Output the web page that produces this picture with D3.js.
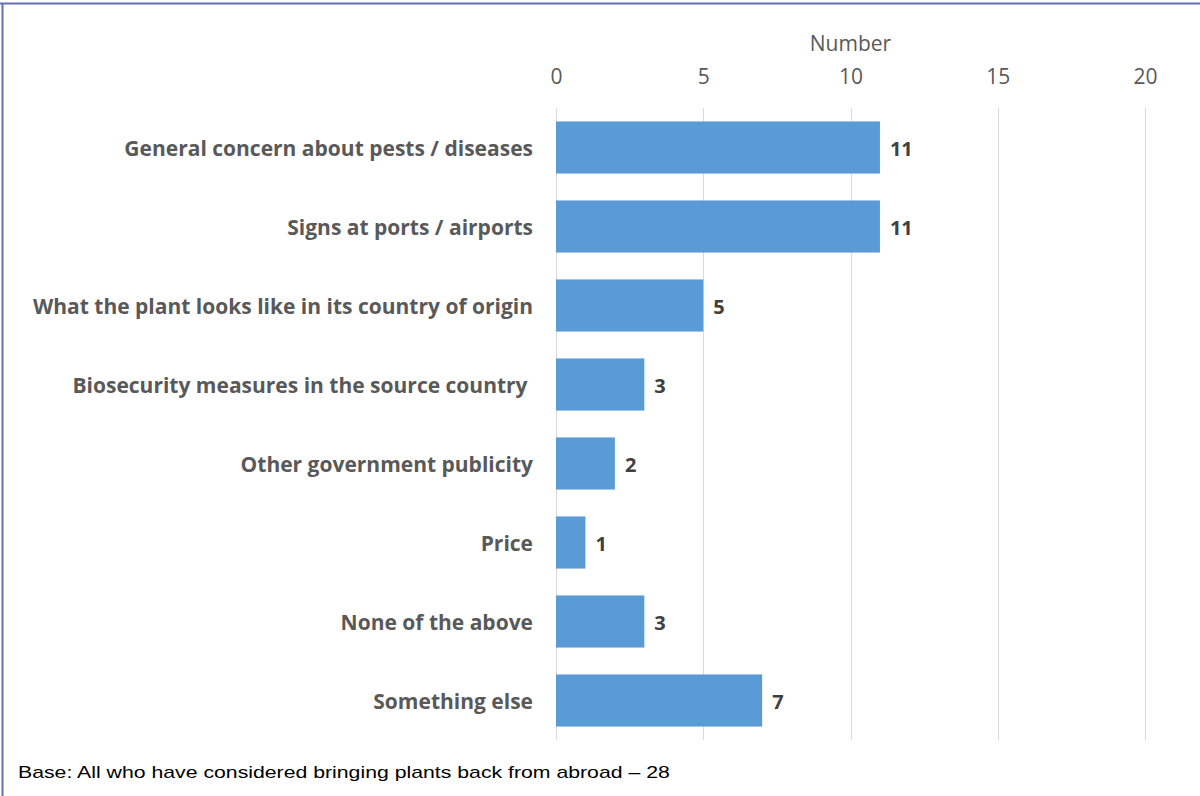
<!DOCTYPE html>
<html>
<head>
<meta charset="utf-8">
<script src="https://cdn.jsdelivr.net/npm/d3@7"></script>
<style>
  html, body { margin: 0; padding: 0; background: #fff; }
  svg { display: block; }
</style>
</head>
<body>
<svg id="chart" width="1200" height="796"></svg>
<script>
// Reasons considered before bringing plants back from abroad
const categories = [
  "General concern about pests / diseases",
  "Signs at ports / airports",
  "What the plant looks like in its country of origin",
  "Biosecurity measures in the source country ",
  "Other government publicity",
  "Price",
  "None of the above",
  "Something else"
];
const counts = [11, 11, 5, 3, 2, 1, 3, 7];
const tickValues = [0, 5, 10, 15, 20];
const axisTitle = "Number";
const footnote = "Base: All who have considered bringing plants back from abroad \u2013 28";

const W = 1200, H = 796;
const margin = { left: 556, right: 55, top: 108, bottom: 56 };

const svg = d3.select("#chart");

// Frame lines along the top and left edges
svg.append("line").attr("x1", 0).attr("x2", W).attr("y1", 3.5).attr("y2", 3.5)
  .attr("stroke", "#6470b4").attr("stroke-width", 2);
svg.append("line").attr("x1", 2.5).attr("x2", 2.5).attr("y1", 3).attr("y2", H)
  .attr("stroke", "#6470b4").attr("stroke-width", 2);

const x = d3.scaleLinear().domain([0, 20]).range([margin.left, W - margin.right]);
const y = d3.scaleBand().domain(categories)
  .range([margin.top, H - margin.bottom]).paddingInner(0.34).paddingOuter(0.17);

// Vertical gridlines
svg.append("g").selectAll("line").data(tickValues).join("line")
  .attr("x1", d => Math.round(x(d)) + 0.5).attr("x2", d => Math.round(x(d)) + 0.5)
  .attr("y1", margin.top).attr("y2", H - margin.bottom)
  .attr("stroke", "#d9d9d9").attr("stroke-width", 1);

// Top value axis
const axisTop = d3.axisTop(x).tickValues(tickValues).tickSize(0).tickPadding(0);
const gAxis = svg.append("g").attr("transform", "translate(0,84)").call(axisTop);
gAxis.select(".domain").remove();
gAxis.selectAll("text")
  .attr("dy", 0)
  .attr("font-family", "'Open Sans', sans-serif").attr("font-size", 21)
  .attr("fill", "#595959");

svg.append("text")
  .attr("x", (x(0) + x(20)) / 2).attr("y", 51)
  .attr("text-anchor", "middle")
  .attr("font-family", "'Open Sans', sans-serif").attr("font-size", 21)
  .attr("fill", "#595959").text(axisTitle);

// Bars
svg.append("g").selectAll("rect").data(categories).join("rect")
  .attr("x", x(0)).attr("y", d => y(d))
  .attr("width", (d, i) => x(counts[i]) - x(0))
  .attr("height", y.bandwidth())
  .attr("fill", "#5b9bd5");

// Category labels
svg.append("g").selectAll("text").data(categories).join("text")
  .attr("x", 533).attr("y", d => y(d) + y.bandwidth() / 2 + 8)
  .attr("text-anchor", "end")
  .style("white-space", "pre")
  .attr("font-family", "'Open Sans', sans-serif").attr("font-weight", 700)
  .attr("font-size", 21).attr("fill", "#595959")
  .text(d => d);

// Value labels
svg.append("g").selectAll("text").data(categories).join("text")
  .attr("x", (d, i) => x(counts[i]) + 10).attr("y", d => y(d) + y.bandwidth() / 2 + 8)
  .attr("font-family", "'Open Sans', sans-serif").attr("font-weight", 700)
  .attr("font-size", 20).attr("fill", "#404040")
  .text((d, i) => counts[i]);

// Footnote (horizontally widened type)
svg.append("text")
  .attr("transform", "translate(18,778) scale(1.25,1)")
  .attr("font-family", "'Liberation Sans', Arial, sans-serif").attr("font-size", 17)
  .attr("fill", "#000").text(footnote);
</script>
</body>
</html>
